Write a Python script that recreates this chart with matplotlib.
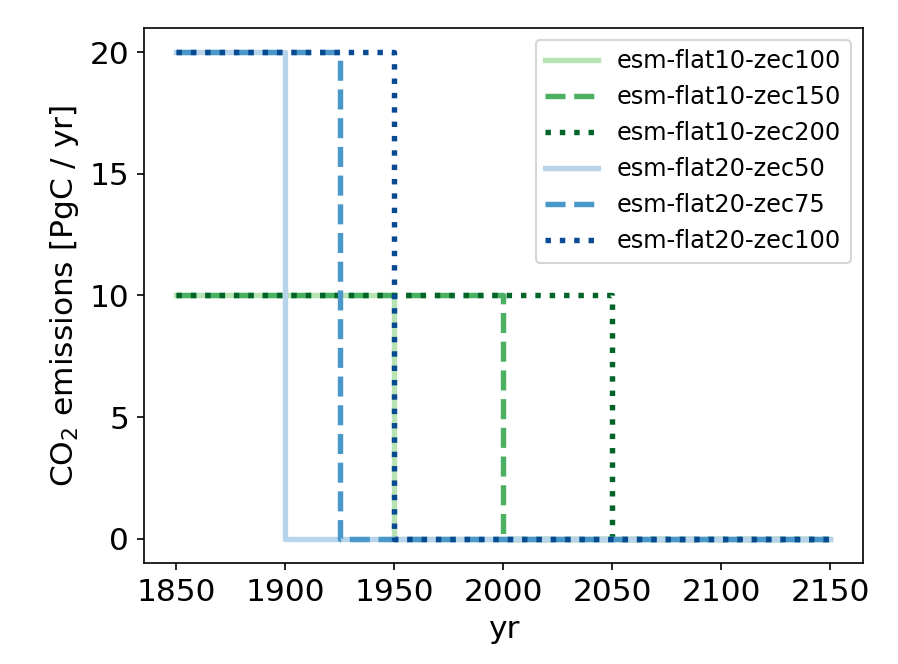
import matplotlib
matplotlib.use("Agg")
import matplotlib.pyplot as plt

# Step-change points: years where emissions change, and the level held from that year on
names = ["esm-flat10-zec100", "esm-flat10-zec150", "esm-flat10-zec200",
         "esm-flat20-zec50", "esm-flat20-zec75", "esm-flat20-zec100"]
step_years = [
    [1850, 1950, 2150],
    [1850, 2000, 2150],
    [1850, 2050, 2150],
    [1850, 1900, 2150],
    [1850, 1925, 2150],
    [1850, 1950, 2150],
]
step_values = [
    [10, 0, 0],
    [10, 0, 0],
    [10, 0, 0],
    [20, 0, 0],
    [20, 0, 0],
    [20, 0, 0],
]
colors = [plt.cm.Greens(0.3), plt.cm.Greens(0.6), plt.cm.Greens(0.9),
          plt.cm.Blues(0.3), plt.cm.Blues(0.6), plt.cm.Blues(0.9)]
styles = ["-", "--", ":", "-", "--", ":"]

fig = plt.figure(figsize=(898 / 150, 664 / 150), dpi=150)
ax = fig.add_axes([0.160, 0.152, 0.801, 0.806])

for name, xs, ys, c, ls in zip(names, step_years, step_values, colors, styles):
    ax.plot(xs, ys, drawstyle="steps-post", color=c, linestyle=ls, lw=2.6, label=name)

ax.set_xticks([1850, 1900, 1950, 2000, 2050, 2100, 2150])
ax.set_yticks([0, 5, 10, 15, 20])
ax.tick_params(labelsize=15)
ax.set_xlabel("yr", fontsize=15)
ax.set_ylabel("CO$_2$ emissions [PgC / yr]", fontsize=15)
ax.legend(loc="upper right", fontsize=11.5, handlelength=2.2)

fig.savefig("out.png", dpi=150)
